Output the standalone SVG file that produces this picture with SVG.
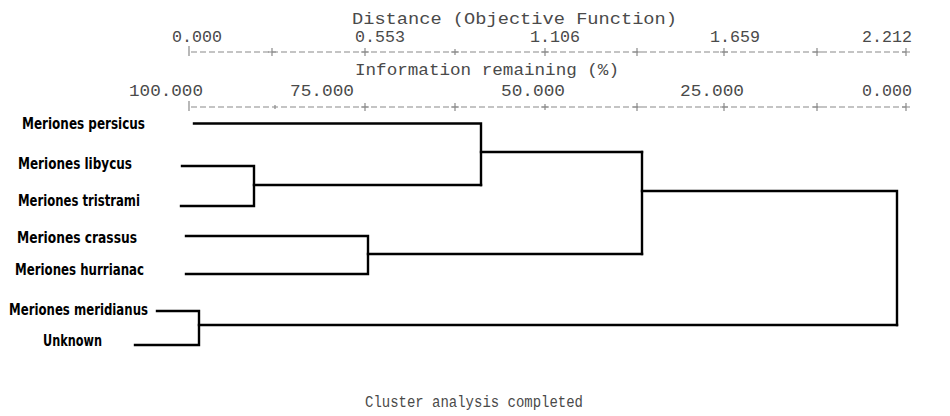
<svg xmlns="http://www.w3.org/2000/svg" width="950" height="416" viewBox="0 0 950 416">
<style>
.ax{font-family:"Liberation Mono","DejaVu Sans Mono",monospace;font-size:16px;fill:#4a4a4a}
.dl{fill:none;stroke:#8a8a8a;stroke-width:1.2;stroke-dasharray:6 3}
.tk{fill:none;stroke:#8a8a8a;stroke-width:1.2}
.lab{font-family:"DejaVu Sans Condensed","DejaVu Sans","Liberation Sans",sans-serif;font-stretch:condensed;font-weight:bold;font-size:16px;fill:#000}
.ln{fill:none;stroke:#000;stroke-width:2.4;stroke-linecap:square;stroke-linejoin:miter}
</style>
<rect width="950" height="416" fill="#fff"/>
<g id="axis">
<text class="ax" x="352" y="24" font-size="15" textLength="325" lengthAdjust="spacingAndGlyphs">Distance (Objective Function)</text>
<text class="ax" x="172" y="42" textLength="50" lengthAdjust="spacingAndGlyphs">0.000</text>
<text class="ax" x="355" y="42" textLength="50" lengthAdjust="spacingAndGlyphs">0.553</text>
<text class="ax" x="530" y="42" textLength="50" lengthAdjust="spacingAndGlyphs">1.106</text>
<text class="ax" x="710" y="42" textLength="50" lengthAdjust="spacingAndGlyphs">1.659</text>
<text class="ax" x="862" y="42" textLength="50" lengthAdjust="spacingAndGlyphs">2.212</text>
<path class="dl" d="M191 52H906"/>
<path class="tk" d="M189 46V56M272 48V56M268 52H276M365 48V56M361 52H369M455 49V55M451 52H459M545 48V56M541 52H549M637 48V56M633 52H641M724 48V56M720 52H728M817 48V56M813 52H821M906 48V56M902 52H910"/>
<text class="ax" x="355" y="75" textLength="264" lengthAdjust="spacingAndGlyphs">Information remaining (%)</text>
<text class="ax" x="129" y="96" textLength="74" lengthAdjust="spacingAndGlyphs">100.000</text>
<text class="ax" x="290" y="96" textLength="64" lengthAdjust="spacingAndGlyphs">75.000</text>
<text class="ax" x="501" y="96" textLength="64" lengthAdjust="spacingAndGlyphs">50.000</text>
<text class="ax" x="680" y="96" textLength="64" lengthAdjust="spacingAndGlyphs">25.000</text>
<text class="ax" x="862" y="96" textLength="50" lengthAdjust="spacingAndGlyphs">0.000</text>
<path class="dl" d="M191 107H906"/>
<path class="tk" d="M189 101V111M275 105V109M365 103V111M361 107H369M455 103V111M451 107H459M545 104V110M541 107H549M637 103V111M633 107H641M724 103V111M720 107H728M817 103V111M813 107H821M906 103V111M902 107H910"/>
</g>
<g id="n-persicus"><text class="lab" x="22" y="129" textLength="123" lengthAdjust="spacingAndGlyphs">Meriones persicus</text></g>
<g id="n-libycus"><text class="lab" x="18" y="169" textLength="114" lengthAdjust="spacingAndGlyphs">Meriones libycus</text></g>
<g id="n-tristrami"><text class="lab" x="18" y="206" textLength="122" lengthAdjust="spacingAndGlyphs">Meriones tristrami</text></g>
<g id="n-crassus"><text class="lab" x="17" y="243" textLength="120" lengthAdjust="spacingAndGlyphs">Meriones crassus</text></g>
<g id="n-hurrianac"><text class="lab" x="15" y="275" textLength="129" lengthAdjust="spacingAndGlyphs">Meriones hurrianac</text></g>
<g id="n-meridianus"><text class="lab" x="9" y="315" textLength="139" lengthAdjust="spacingAndGlyphs">Meriones meridianus</text></g>
<g id="n-unknown"><text class="lab" x="43" y="346" textLength="59" lengthAdjust="spacingAndGlyphs">Unknown</text></g>
<g id="connectors">
<path class="ln" d="M194 123.5H481V185"/>
<path class="ln" d="M182 166H254V206H181"/>
<path class="ln" d="M254 185H481"/>
<path class="ln" d="M481 152H642"/>
<path class="ln" d="M186 236H368V274H186"/>
<path class="ln" d="M368 254H642"/>
<path class="ln" d="M642 152V254"/>
<path class="ln" d="M642 191H897V325"/>
<path class="ln" d="M157 311H199V345H135"/>
<path class="ln" d="M199 325H897"/>
</g>
<g id="status"><text class="ax" x="365" y="407" textLength="218" lengthAdjust="spacingAndGlyphs">Cluster analysis completed</text></g>
</svg>
